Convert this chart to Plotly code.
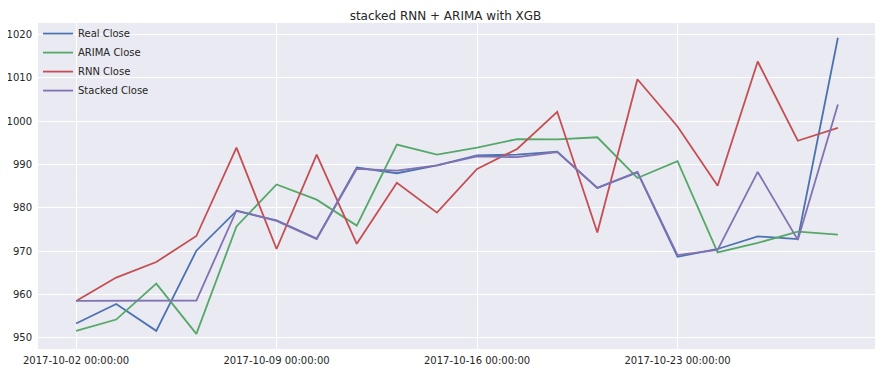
import plotly.graph_objects as go

dates = [
    "2017-10-02 00:00:00", "2017-10-03 00:00:00", "2017-10-04 00:00:00", "2017-10-05 00:00:00", "2017-10-06 00:00:00",
    "2017-10-09 00:00:00", "2017-10-10 00:00:00", "2017-10-11 00:00:00", "2017-10-12 00:00:00", "2017-10-13 00:00:00",
    "2017-10-16 00:00:00", "2017-10-17 00:00:00", "2017-10-18 00:00:00", "2017-10-19 00:00:00", "2017-10-20 00:00:00",
    "2017-10-23 00:00:00", "2017-10-24 00:00:00", "2017-10-25 00:00:00", "2017-10-26 00:00:00", "2017-10-27 00:00:00",
]
real_close = [953.3, 957.8, 951.6, 970.1, 979.3, 977.1, 972.9, 989.3, 988.0, 989.8,
              992.1, 992.3, 993.0, 984.6, 988.2, 968.7, 970.5, 973.4, 972.8, 1019.3]
arima_close = [951.6, 954.2, 962.5, 950.9, 975.7, 985.4, 981.9, 975.9, 994.6, 992.3,
               993.9, 995.9, 995.8, 996.3, 986.9, 990.8, 969.7, 971.9, 974.5, 973.8]
rnn_close = [958.5, 963.9, 967.5, 973.5, 993.9, 970.5, 992.3, 971.7, 985.8, 978.9,
             989.0, 993.6, 1002.2, 974.3, 1009.7, 998.8, 985.1, 1013.8, 995.5, 998.5]
stacked_close = [958.5, 958.5, 958.5, 958.6, 979.4, 977.0, 972.8, 989.0, 988.6, 989.8,
                 991.9, 991.7, 992.9, 984.6, 988.3, 969.1, 970.3, 988.3, 972.6, 1003.9]

series = [
    ("Real Close", real_close, "#4C72B0"),
    ("ARIMA Close", arima_close, "#55A868"),
    ("RNN Close", rnn_close, "#C44E52"),
    ("Stacked Close", stacked_close, "#8172B2"),
]
tick_dates = dates[::5]
y_ticks = [950, 960, 970, 980, 990, 1000, 1010, 1020]

fig = go.Figure()
for name, vals, color in series:
    fig.add_trace(go.Scatter(x=dates, y=vals, mode="lines", name=name,
                             line=dict(color=color, width=1.8)))

# the page body has an 8px default margin, so the figure is sized to fit inside it
fig.update_layout(
    width=875, height=365,
    margin=dict(l=30, r=7, t=15, b=24, autoexpand=False),
    paper_bgcolor="white", plot_bgcolor="#EAEAF2",
    font=dict(family="DejaVu Sans", size=10, color="#262626"),
    title=dict(text="stacked RNN + ARIMA with XGB", x=0.5, xanchor="center",
               yref="container", y=0.979, yanchor="middle", automargin=False,
               font=dict(size=12, color="#262626")),
    showlegend=True,
    legend=dict(x=0.0, y=1.012, xanchor="left", yanchor="top", bgcolor="rgba(0,0,0,0)",
                font=dict(size=10, color="#262626"), itemwidth=30, tracegroupgap=0),
    xaxis=dict(type="category", range=[-0.95, 19.95], tickmode="array",
               tickvals=tick_dates, ticktext=tick_dates, showgrid=True,
               gridcolor="white", gridwidth=1, zeroline=False, showline=False,
               automargin=False, ticks="", ticklabelstandoff=4,
               tickfont=dict(size=10, color="#262626")),
    yaxis=dict(range=[947.4, 1022.7], tickmode="array", tickvals=y_ticks,
               showgrid=True, gridcolor="white", gridwidth=1, zeroline=False,
               automargin=False, showline=False, ticks="", ticklabelstandoff=5,
               tickfont=dict(size=10, color="#262626")),
)
fig.write_html("out.html")
